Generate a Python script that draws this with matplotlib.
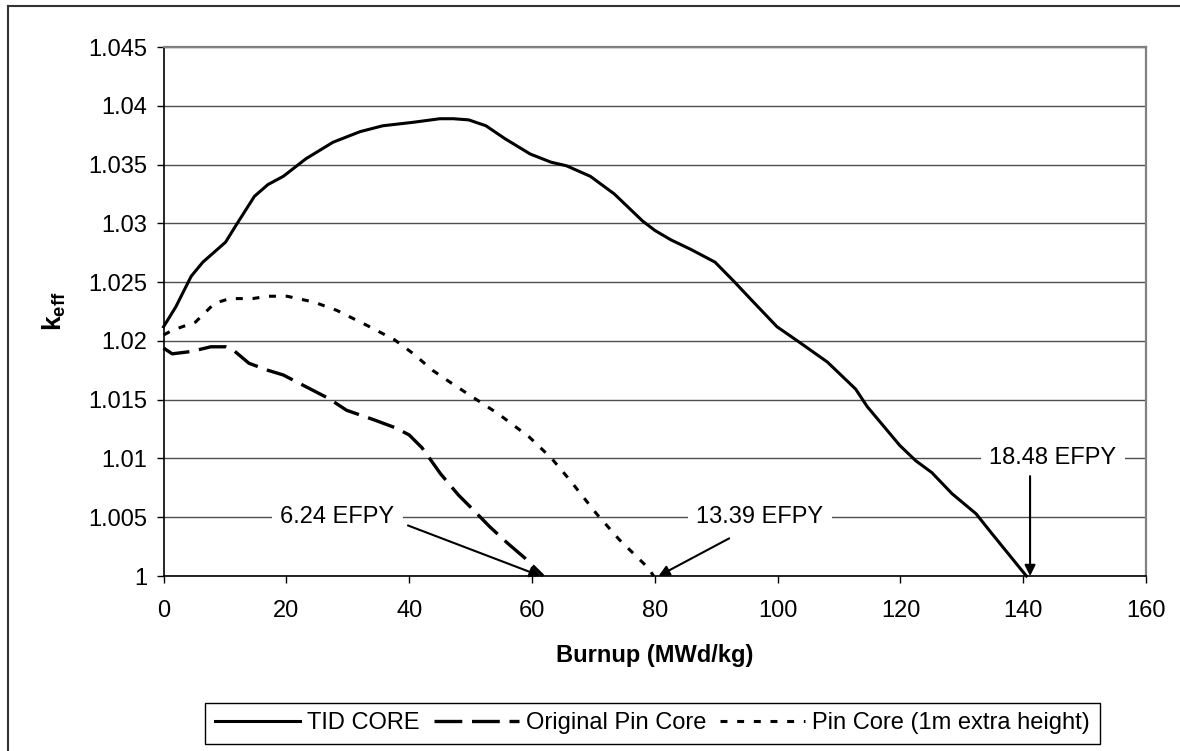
import matplotlib
matplotlib.use("Agg")
import matplotlib.pyplot as plt
from matplotlib.lines import Line2D

plt.rcParams['font.family'] = ['Liberation Sans', 'DejaVu Sans']
plt.rcParams['mathtext.fontset'] = 'custom'
plt.rcParams['mathtext.rm'] = 'Liberation Sans'
plt.rcParams['mathtext.bf'] = 'Liberation Sans:bold'
plt.rcParams['lines.scale_dashes'] = False

# === Data ===

tid_x = [0, 2.0, 4.5, 6.4, 10.1, 12.0, 14.8, 17.0, 19.5, 23.2, 27.6, 32.0, 35.7, 40.7, 45.0,
         47.2, 49.7, 52.5, 55.6, 59.7, 63.1, 65.6, 69.5, 73.4, 78.0, 80.0, 82.6, 85.8, 89.8,
         93.0, 95.7, 99.9, 103.5, 108.1, 112.7, 114.6, 119.9, 122.5, 125.1, 128.4, 132.3,
         134.9, 140.5]
tid_k = [1.0212, 1.0229, 1.0255, 1.0267, 1.0284, 1.0300, 1.0323, 1.0333, 1.0340, 1.0355,
         1.0369, 1.0378, 1.0383, 1.0386, 1.0389, 1.0389, 1.0388, 1.0383, 1.0372, 1.0359,
         1.0352, 1.0349, 1.0340, 1.0325, 1.0302, 1.0294, 1.0286, 1.0278, 1.0267, 1.0250,
         1.0235, 1.0212, 1.0199, 1.0182, 1.0159, 1.0144, 1.0111, 1.0098, 1.0088, 1.0070,
         1.0053, 1.0036, 1.0000]

orig_x = [0, 1.4, 4.5, 7.7, 10.1, 11.4, 13.9, 17.0, 19.5, 23.2, 26.9, 29.8, 34.2, 37.8,
          40.0, 42.1, 43.2, 45.1, 48.0, 50.1, 53.1, 56.0, 58.9, 61.8]
orig_k = [1.0194, 1.0189, 1.0191, 1.0195, 1.0195, 1.0192, 1.0181, 1.0175, 1.0171, 1.0161,
          1.0151, 1.0141, 1.0133, 1.0126, 1.0120, 1.0109, 1.0101, 1.0087, 1.0069, 1.0058,
          1.0042, 1.0028, 1.0015, 1.0000]

ext_x = [0, 1.4, 5.2, 8.3, 10.8, 14.5, 17.0, 20.1, 24.5, 28.2, 33.2, 37.6, 40.7, 43.8,
         46.9, 50.4, 54.5, 59.6, 63.2, 66.1, 70.5, 74.2, 78.9, 79.8]
ext_k = [1.0205, 1.0209, 1.0216, 1.0232, 1.0236, 1.0236, 1.0238, 1.0238, 1.0233, 1.0226,
         1.0213, 1.0201, 1.0189, 1.0175, 1.0164, 1.0152, 1.0138, 1.0118, 1.0100, 1.0082,
         1.0053, 1.0031, 1.0007, 1.0000]

series_labels = ["TID CORE", "Original Pin Core", "Pin Core (1m extra height)"]

x_ticks = [0, 20, 40, 60, 80, 100, 120, 140, 160]
y_ticks = [1.0, 1.005, 1.01, 1.015, 1.02, 1.025, 1.03, 1.035, 1.04, 1.045]
y_tick_labels = ["1", "1.005", "1.01", "1.015", "1.02", "1.025", "1.03", "1.035", "1.04", "1.045"]

# end-of-life notes: label, text position, arrow start, arrow tip
efpy_labels = ["6.24 EFPY", "13.39 EFPY", "18.48 EFPY"]
efpy_text_xy = [(28.3, 1.005), (97.1, 1.005), (144.8, 1.01)]
efpy_arrow_from = [(39.8, 1.0043), (92.1, 1.0032), (141.1, 1.0085)]
efpy_arrow_to = [(61.4, 1.0), (80.6, 1.0), (141.1, 1.0)]

FS = 17

# === Plot ===

fig = plt.figure(figsize=(11.8, 7.51), dpi=100)
ax = fig.add_axes([0.1386, 0.233, 0.8327, 0.7044])

ax.plot(tid_x, tid_k, color="black", lw=2.2, label=series_labels[0], zorder=3, clip_on=False)
ax.plot(orig_x, orig_k, color="black", lw=2.4, dashes=(20, 7), label=series_labels[1],
        zorder=3, clip_on=False)
ax.plot(ext_x, ext_k, color="black", lw=2.2, dashes=(5, 7), label=series_labels[2],
        zorder=3, clip_on=False)

ax.set_xlim(0, 160)
ax.set_ylim(1.0, 1.045)
ax.set_xticks(x_ticks)
ax.set_yticks(y_ticks)
ax.set_yticklabels(y_tick_labels)
ax.tick_params(axis="both", direction="out", length=5, width=1, labelsize=FS, color="black")
ax.tick_params(axis="x", pad=12)
ax.tick_params(axis="y", pad=7)
ax.yaxis.grid(True, color="#505050", lw=1.0, zorder=0)
ax.set_axisbelow(True)

for side in ["left", "bottom"]:
    ax.spines[side].set_color("black")
    ax.spines[side].set_linewidth(1.2)
for side in ["top", "right"]:
    ax.spines[side].set_color("#808080")
    ax.spines[side].set_linewidth(1.6)

ax.set_xlabel("Burnup (MWd/kg)", fontsize=FS, fontweight="bold", labelpad=16)
ax.set_ylabel(r"$\mathbf{k}_{\mathbf{eff}}$", fontsize=19, labelpad=14)

for lab, txy, a0, a1 in zip(efpy_labels, efpy_text_xy, efpy_arrow_from, efpy_arrow_to):
    ax.text(txy[0], txy[1], lab, fontsize=FS, ha="center", va="center", zorder=4,
            bbox=dict(facecolor="white", edgecolor="none", pad=6))
    ax.annotate("", xy=a1, xytext=a0, zorder=5, annotation_clip=False,
                arrowprops=dict(arrowstyle="-|>", color="black", lw=1.5,
                                mutation_scale=16, shrinkA=0, shrinkB=0))

leg = fig.legend(loc="upper center", bbox_to_anchor=(0.553, 0.064),
                 bbox_transform=fig.transFigure, ncol=3, fontsize=FS, frameon=True,
                 fancybox=False, edgecolor="black", framealpha=1, handlelength=3.6,
                 handletextpad=0.3, columnspacing=0.6, borderpad=0.4, borderaxespad=0)
leg.get_frame().set_linewidth(1.0)

# outer chart frame (only top and left edges show in the reference)
fig.add_artist(Line2D([0.007, 1.0], [0.9924, 0.9924], transform=fig.transFigure,
                      color="#333333", lw=1.5))
fig.add_artist(Line2D([0.007, 0.007], [0.0, 0.9924], transform=fig.transFigure,
                      color="#333333", lw=1.5))

fig.savefig("out.png", dpi=100)
